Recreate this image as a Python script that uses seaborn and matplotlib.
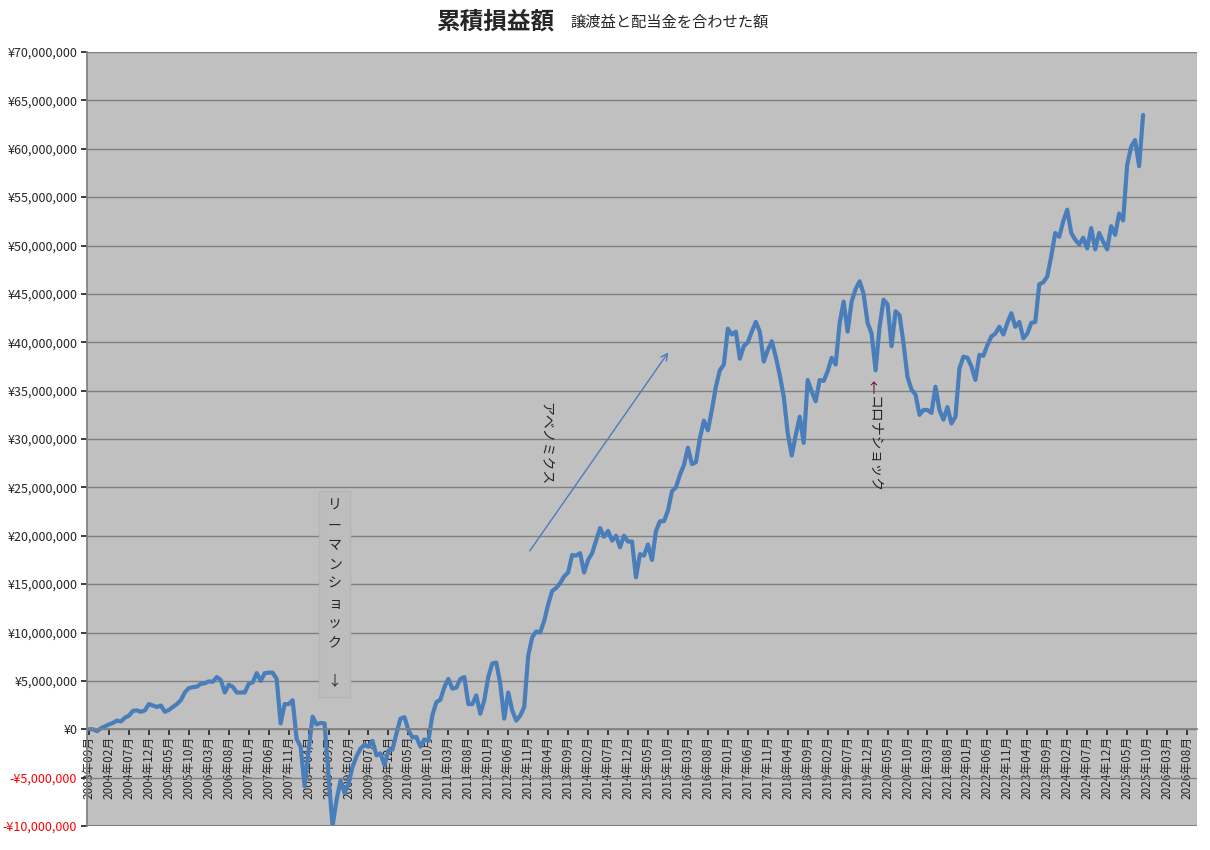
import numpy as np
import pandas as pd
import matplotlib
matplotlib.use("Agg")
import matplotlib.pyplot as plt
import seaborn as sns
from matplotlib.ticker import FuncFormatter, MultipleLocator

start_month = "2003-09"
values_million = [
    0.0, 0.0, -0.2, 0.1, 0.3, 0.5, 0.65, 0.9, 0.8, 1.2, 1.4, 1.9, 1.95, 1.8, 1.95, 2.6, 2.45, 2.3, 2.45, 1.8,
    2.0, 2.3, 2.6, 3.0, 3.8, 4.25, 4.35, 4.4, 4.7, 4.75, 4.95, 4.9, 5.4, 5.1, 3.8, 4.6, 4.4, 3.8, 3.8, 3.8,
    4.7, 4.85, 5.8, 5.0, 5.8, 5.85, 5.85, 5.2, 0.6, 2.6, 2.6, 3.0, -1.0, -1.8, -5.9, -2.2, 1.3, 0.5, 0.65, 0.6,
    -4.9, -10.0, -7.3, -5.3, -6.6, -5.6, -3.9, -2.8, -2.0, -1.6, -1.8, -1.2, -2.7, -2.5, -3.7, -2.2, -2.1, -0.45, 1.1, 1.25,
    -0.1, -0.85, -0.8, -1.8, -1.05, -1.2, 1.45, 2.8, 3.05, 4.35, 5.2, 4.2, 4.3, 5.2, 5.4, 2.6, 2.6, 3.5, 1.6, 3.0,
    5.4, 6.8, 6.9, 4.7, 1.1, 3.8, 1.95, 0.9, 1.4, 2.3, 7.6, 9.5, 10.1, 10.0, 11.2, 12.9, 14.3, 14.6, 15.1, 15.8,
    16.2, 18.0, 17.95, 18.2, 16.2, 17.5, 18.2, 19.5, 20.8, 19.9, 20.5, 19.5, 20.0, 18.8, 20.0, 19.4, 19.4, 15.7, 18.1, 17.95,
    19.1, 17.5, 20.5, 21.5, 21.5, 22.6, 24.6, 25.0, 26.3, 27.3, 29.1, 27.4, 27.6, 30.1, 31.9, 30.9, 33.0, 35.4, 37.1, 37.7,
    41.4, 40.8, 41.1, 38.3, 39.6, 40.0, 41.1, 42.1, 41.1, 38.0, 39.2, 40.1, 38.5, 36.6, 34.4, 30.6, 28.3, 30.4, 32.3, 29.6,
    36.1, 34.9, 33.9, 36.1, 36.0, 37.0, 38.4, 37.7, 42.0, 44.2, 41.1, 44.2, 45.5, 46.3, 45.0, 42.0, 40.9, 37.1, 41.6, 44.4,
    43.9, 39.6, 43.2, 42.8, 39.9, 36.4, 35.1, 34.6, 32.5, 33.0, 33.0, 32.7, 35.4, 33.0, 32.0, 33.3, 31.6, 32.3, 37.3, 38.5,
    38.4, 37.5, 36.1, 38.7, 38.6, 39.7, 40.6, 40.9, 41.6, 40.8, 42.0, 43.0, 41.6, 42.1, 40.4, 40.9, 42.0, 42.1, 46.0, 46.2,
    46.8, 48.9, 51.3, 50.9, 52.5, 53.7, 51.3, 50.6, 50.1, 50.8, 49.7, 51.8, 49.6, 51.3, 50.4, 49.6, 52.0, 51.1, 53.3, 52.6,
    58.3, 60.2, 60.9, 58.2, 63.5,
]
n_categories = 278
months = pd.period_range(start_month, periods=n_categories, freq="M")
month_labels = [f"{p.year}年{p.month:02d}月" for p in months]
df = pd.DataFrame({"idx": np.arange(len(values_million)),
                   "value": np.array(values_million) * 1e6})

sns.set_theme(style="white")
plt.rcParams['font.family'] = ['Noto Sans CJK JP', 'DejaVu Sans']

fig = plt.figure(figsize=(12.1, 8.5), dpi=100)
ax = fig.add_axes([87/1210, 1-826/850, (1197-87)/1210, (826-52)/850])
ax.set_facecolor("#C0C0C0")
sns.lineplot(data=df, x="idx", y="value", ax=ax, color="#4A7EBB", linewidth=3, zorder=2)

ax.spines["bottom"].set_position(("data", 0))
ax.set_ylim(-10e6, 70e6)
ax.set_xlim(-0.5, n_categories - 0.5)
ax.yaxis.set_major_locator(MultipleLocator(5e6))
ax.grid(axis="y", color="#808080", linewidth=1)
ax.set_axisbelow(True)

def yfmt(v, pos):
    v = int(round(v))
    return f"-¥{abs(v):,}" if v < 0 else f"¥{v:,}"
ax.yaxis.set_major_formatter(FuncFormatter(yfmt))
ax.tick_params(axis="y", labelsize=9, length=4, left=True, pad=3)
fig.canvas.draw()
for lab, t in zip(ax.get_yticklabels(), ax.get_yticks()):
    if t < 0:
        lab.set_color("red")

tick_pos = list(range(0, n_categories, 5))
ax.set_xticks(tick_pos)
ax.set_xticklabels([month_labels[i] for i in tick_pos], rotation=90, fontsize=8.5, va="top", ha="center")
ax.tick_params(axis="x", length=4, bottom=True, pad=1)
ax.set_xlabel("")
ax.set_ylabel("")
for s in ["top", "right"]:
    ax.spines[s].set_visible(False)
for s in ["left", "bottom"]:
    ax.spines[s].set_color("#808080")
ax.spines["bottom"].set_zorder(3)
ax.axhline(-10e6, color="#808080", linewidth=1.5, zorder=4)
ax.axvline(n_categories - 0.5, color="#A0A0A0", linewidth=0.8)

# title
fig.text(437/1210, 1-22/850, "累積損益額", fontsize=17, fontweight="bold", ha="left", va="center")
fig.text(570/1210, 1-22/850, "譲渡益と配当金を合わせた額", fontsize=11, ha="left", va="center")

# annotations (data coordinates)
ax.text(61.5, 14.0e6, "\n".join("リーマンショック") + "\n\n↓", fontsize=10, ha="center", va="center",
        linespacing=1.5, bbox=dict(facecolor="#BDBDBD", edgecolor="#B5B5B5", pad=6))
ax.text(114.5, 29.5e6, "アベノミクス", fontsize=10, rotation=270, ha="center", va="center")
ax.annotate("", xy=(145.5, 39.2e6), xytext=(110, 18.2e6),
            arrowprops=dict(arrowstyle="->", color="#4A7EBB", lw=1))
ax.text(196.5, 35.2e6, "↑", fontsize=10, ha="center", va="center", color="#660033")
ax.text(196.5, 29.4e6, "コロナショック", fontsize=10, rotation=270, ha="center", va="center")

fig.savefig("out.png", dpi=100)
